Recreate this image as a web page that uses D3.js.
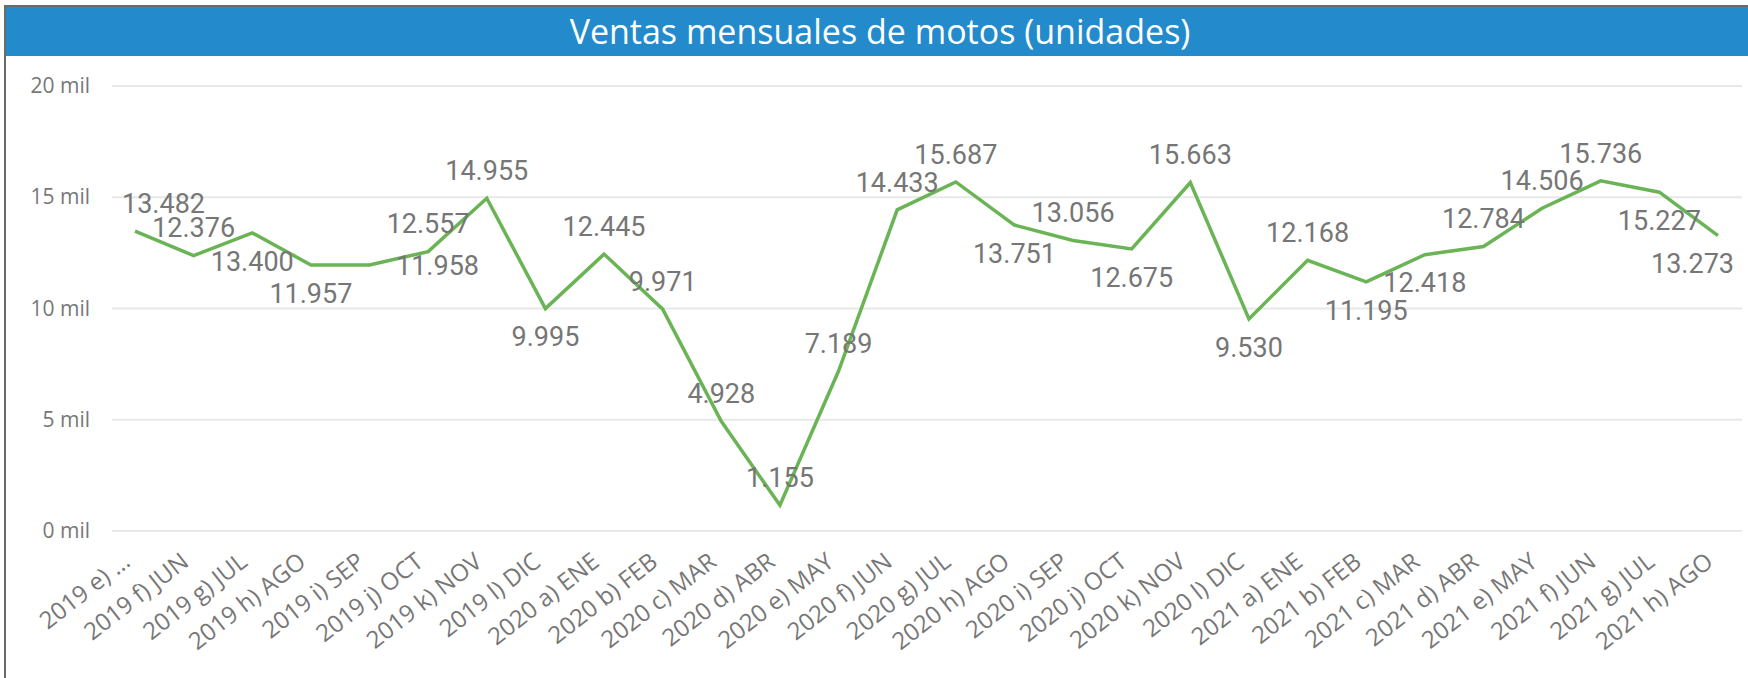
<!DOCTYPE html>
<html>
<head>
<meta charset="utf-8">
<script src="https://cdn.jsdelivr.net/npm/d3@7"></script>
<style>
  body { margin: 0; background: #fff; }
  svg { display: block; }
</style>
</head>
<body>
<script>
const W = 1748
const H = 678

const categories = [
  '2019 e) MAY', '2019 f) JUN', '2019 g) JUL', '2019 h) AGO', '2019 i) SEP', '2019 j) OCT', '2019 k) NOV', '2019 l) DIC',
  '2020 a) ENE', '2020 b) FEB', '2020 c) MAR', '2020 d) ABR', '2020 e) MAY', '2020 f) JUN', '2020 g) JUL', '2020 h) AGO',
  '2020 i) SEP', '2020 j) OCT', '2020 k) NOV', '2020 l) DIC',
  '2021 a) ENE', '2021 b) FEB', '2021 c) MAR', '2021 d) ABR', '2021 e) MAY', '2021 f) JUN', '2021 g) JUL', '2021 h) AGO'
]
const ventas = [
  13482, 12376, 13400, 11957, 11958, 12557, 14955, 9995,
  12445, 9971, 4928, 1155, 7189, 14433, 15687, 13751,
  13056, 12675, 15663, 9530,
  12168, 11195, 12418, 12784, 14506, 15736, 15227, 13273
]
// a = arriba, b = abajo, r = derecha (como lo coloca Power BI)
const labelPlace = [
  'a', 'a', 'b', 'b', 'r', 'a', 'a', 'b',
  'a', 'a', 'a', 'a', 'a', 'a', 'a', 'b',
  'a', 'b', 'a', 'b',
  'a', 'b', 'b', 'a', 'a', 'a', 'b', 'b'
]
const yTicks = [0, 5000, 10000, 15000, 20000]

const margin = {top: 86, right: 30, bottom: 147, left: 135}

const es = d3.formatLocale({decimal: ',', thousands: '.', grouping: [3], currency: ['', '']})
const fmt = es.format(',d')

const svg = d3.select('body').append('svg')
  .attr('width', W)
  .attr('height', H)

// marco y barra de título
svg.append('rect')
  .attr('x', 5).attr('y', 6)
  .attr('width', W).attr('height', H)
  .attr('fill', '#fff')
  .attr('stroke', '#6b6b6b')
  .attr('stroke-width', 2)

svg.append('rect')
  .attr('x', 6).attr('y', 7)
  .attr('width', W).attr('height', 49)
  .attr('fill', '#238bcb')

svg.append('text')
  .attr('x', 880)
  .attr('y', 32)
  .attr('dy', '0.36em')
  .attr('text-anchor', 'middle')
  .attr('fill', '#fff')
  .style('font-family', '"Open Sans", sans-serif')
  .style('font-size', '34px')
  .text('Ventas mensuales de motos (unidades)')

const x = d3.scalePoint()
  .domain(categories)
  .range([margin.left, W - margin.right])

const y = d3.scaleLinear()
  .domain([0, 20000])
  .range([H - margin.bottom, margin.top])

// rejilla
svg.append('g')
  .selectAll('line')
  .data(yTicks)
  .join('line')
    .attr('x1', margin.left - 23)
    .attr('x2', W - margin.right + 24)
    .attr('y1', d => y(d))
    .attr('y2', d => y(d))
    .attr('stroke', '#e8e8e8')
    .attr('stroke-width', 2)

const yAxis = d3.axisLeft(y)
  .tickValues(yTicks)
  .tickSize(0)
  .tickPadding(0)
  .tickFormat(d => `${d / 1000} mil`)

svg.append('g')
  .attr('class', 'y-axis')
  .attr('transform', 'translate(90,0)')
  .call(yAxis)
  .call(g => g.select('.domain').remove())
  .selectAll('text')
    .attr('fill', '#777')
    .style('font-family', '"Open Sans", sans-serif')
    .style('font-size', '21px')

const xAxis = d3.axisBottom(x)
  .tickSize(0)
  .tickPadding(0)

const xg = svg.append('g')
  .attr('class', 'x-axis')
  .attr('transform', `translate(0,${H - margin.bottom})`)
  .call(xAxis)
  .call(g => g.select('.domain').remove())

xg.selectAll('text')
  .attr('x', 0)
  .attr('y', 0)
  .attr('dy', '0.35em')
  .attr('text-anchor', 'end')
  .attr('transform', 'translate(-9,27) rotate(-38)')
  .attr('fill', '#777')
  .style('font-family', '"Open Sans", sans-serif')
  .style('font-size', '24px')

// Power BI recorta la primera etiqueta con "…"
xg.selectAll('text').each(function () {
  const t = d3.select(this)
  let txt = t.text()
  while (this.getBoundingClientRect().left < 25 && txt.length > 2) {
    txt = txt.slice(0, -1)
    t.text(txt.trimEnd() + ' …')
  }
})

const line = d3.line()
  .x((d, i) => x(categories[i]))
  .y(d => y(d))

svg.append('path')
  .datum(ventas)
  .attr('d', line)
  .attr('fill', 'none')
  .attr('stroke', '#6ab456')
  .attr('stroke-width', 3.5)
  .attr('stroke-linejoin', 'miter')

const labels = svg.append('g')
  .selectAll('text')
  .data(ventas)
  .join('text')
    .attr('text-anchor', 'middle')
    .attr('dy', '0.36em')
    .attr('fill', '#767676')
    .style('font-family', 'Roboto, sans-serif')
    .style('font-size', '27px')
    .text(d => fmt(d))
    .attr('x', (d, i) => x(categories[i]) + (labelPlace[i] === 'r' ? 68 : 0))
    .attr('y', (d, i) => y(d) + (labelPlace[i] === 'a' ? -28 : labelPlace[i] === 'b' ? 28 : 0))

// mantener las etiquetas dentro del área del gráfico
labels.each(function () {
  const w = this.getComputedTextLength()
  const cx = +this.getAttribute('x')
  const lo = margin.left - 13 + w / 2
  const hi = W - margin.right + 16 - w / 2
  this.setAttribute('x', Math.max(lo, Math.min(hi, cx)))
})
</script>
</body>
</html>
